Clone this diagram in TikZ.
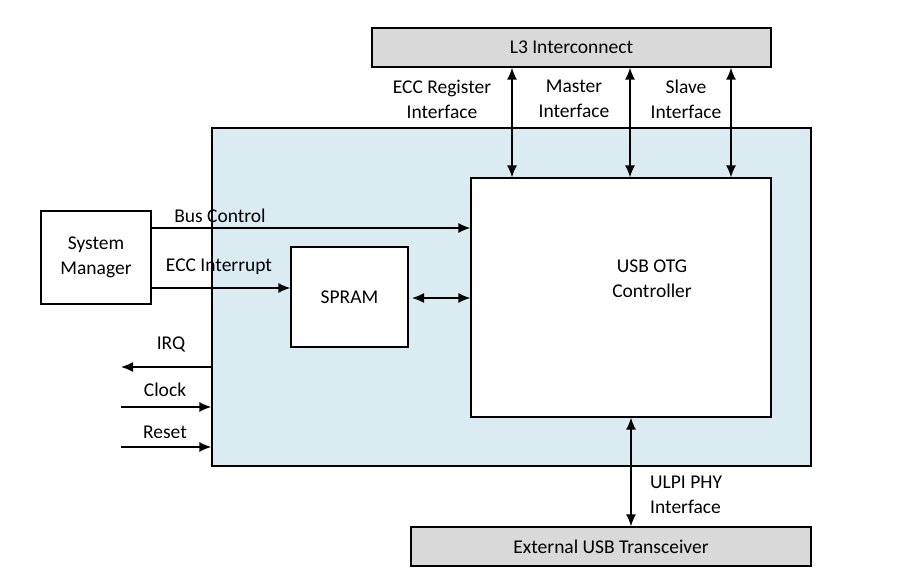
\documentclass[tikz,border=0pt]{standalone}
\usepackage{fontspec}
\setmainfont{Carlito}
\usetikzlibrary{arrows.meta}
\definecolor{blk}{HTML}{DAEBF2}
\definecolor{gry}{HTML}{D9D9D9}
\begin{document}
\begin{tikzpicture}[x=1pt,y=-1pt,
  every node/.style={font=\fontsize{19.5}{25}\selectfont},
  box/.style={draw,line width=1.3pt,inner sep=0pt},
  lbl/.style={align=center,inner sep=0pt},
  arr/.style={line width=1.4pt,-{Latex[length=12pt,width=10pt]}},
  darr/.style={line width=1.4pt,{Latex[length=12pt,width=10pt]}-{Latex[length=12pt,width=10pt]}}]
\useasboundingbox (0,0) rectangle (900,585);
% boxes
\node[box,fill=gry,minimum width=399pt,minimum height=39pt] (l3) at (571.5,47.5) {L3 Interconnect};
\node[box,fill=blk,minimum width=599pt,minimum height=338pt] (usb) at (511.5,297) {};
\node[box,fill=white,minimum width=300pt,minimum height=239pt] (otg) at (621,297.5) {};
\node[lbl] (otgl) at (652,279) {USB OTG\\Controller};
\node[box,fill=white,minimum width=117pt,minimum height=100pt] (spram) at (349.5,297) {SPRAM};
\node[box,fill=white,minimum width=110pt,minimum height=93pt,align=center] (sm) at (96,257.5) {System\\Manager};
\node[box,fill=gry,minimum width=400pt,minimum height=39pt] (ext) at (611,546.5) {External USB Transceiver};
% top interfaces
\draw[darr] (l3.south -| 512,0) -- (otg.north -| 512,0);
\draw[darr] (l3.south -| 630,0) -- (otg.north -| 630,0);
\draw[darr] (l3.south -| 731,0) -- (otg.north -| 731,0);
\node[lbl] (eccl) at (442,99) {ECC Register\\Interface};
\node[lbl] (masl) at (574,99) {Master\\Interface};
\node[lbl] (slal) at (686,99) {Slave\\Interface};
% system manager signals
\draw[arr] (sm.east |- 0,228) -- (otg.west |- 0,228);
\node[lbl] (busl) at (220,216) {Bus Control};
\draw[arr] (sm.east |- 0,288) -- (spram.west |- 0,288);
\node[lbl] (ecci) at (219,267) {ECC Interrupt};
\draw[darr] (412,298) -- (otg.west |- 0,298);
% left signals
\coordinate (irqe) at (121,367);
\coordinate (clks) at (121,407);
\coordinate (rsts) at (121,447);
\draw[arr] (usb.west |- irqe) -- (irqe);
\node[lbl] (irql) at (171,344) {IRQ};
\draw[arr] (clks) -- (usb.west |- clks);
\node[lbl] (clkl) at (165,390) {Clock};
\draw[arr] (rsts) -- (usb.west |- rsts);
\node[lbl] (rstl) at (165,432) {Reset};
% ULPI
\draw[darr] (otg.south -| 631,0) -- (ext.north -| 631,0);
\node[lbl,align=left,anchor=west] (ulpi) at (650,495) {ULPI PHY\\Interface};
\end{tikzpicture}
\end{document}
